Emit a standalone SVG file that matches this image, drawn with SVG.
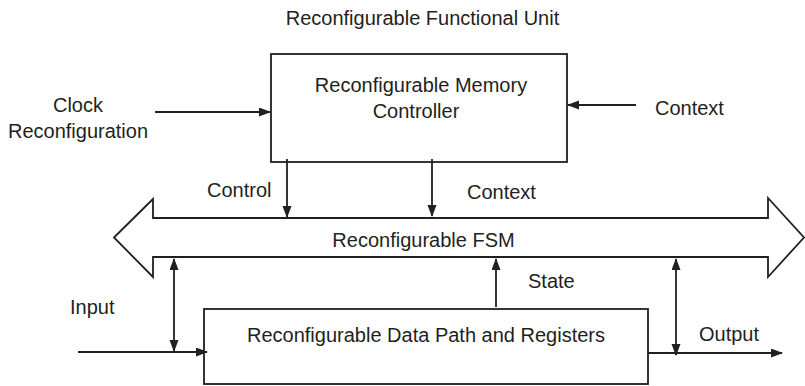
<svg xmlns="http://www.w3.org/2000/svg" width="805" height="386" viewBox="0 0 805 386">
<style>
text{font-family:"Liberation Sans",Arial,sans-serif;font-size:20px;fill:#231f20}
.m{text-anchor:middle}
.box{fill:#fff;stroke:#231f20;stroke-width:1.8}
.ln{fill:none;stroke:#231f20;stroke-width:1.8}
</style>
<defs>
<marker id="ah" markerUnits="userSpaceOnUse" markerWidth="12" markerHeight="10" refX="11" refY="4.5" orient="auto-start-reverse">
<path d="M0,0 L12,4.5 L0,9 z" fill="#231f20"/>
</marker>
</defs>
<rect width="805" height="386" fill="#fff"/>
<text class="m" x="422.5" y="25">Reconfigurable Functional Unit</text>
<g id="memctrl">
<rect class="box" x="271" y="54" width="296" height="108"/>
<text class="m" x="421" y="92">Reconfigurable Memory</text>
<text class="m" x="416" y="118">Controller</text>
</g>
<g id="fsm">
<polygon class="box" points="114,237.5 153,199 153,218 768,218 768,198 804,237.5 768,277 768,257 153,257 153,277"/>
<text class="m" x="423.5" y="247">Reconfigurable FSM</text>
</g>
<g id="datapath">
<rect class="box" x="204" y="309" width="444" height="75"/>
<text class="m" x="426" y="342">Reconfigurable Data Path and Registers</text>
</g>
<g id="labels">
<text class="m" x="78" y="112">Clock</text>
<text class="m" x="78" y="138">Reconfiguration</text>
<text x="655" y="115">Context</text>
<text x="207" y="197">Control</text>
<text x="467" y="199">Context</text>
<text x="528" y="288">State</text>
<text x="70" y="314">Input</text>
<text x="699" y="341">Output</text>
</g>
<g id="connectors">
<line class="ln" x1="155" y1="112" x2="270" y2="112" marker-end="url(#ah)"/>
<line class="ln" x1="636" y1="105" x2="568" y2="105" marker-end="url(#ah)"/>
<line class="ln" x1="287" y1="159" x2="287" y2="217" marker-end="url(#ah)"/>
<line class="ln" x1="432" y1="159" x2="432" y2="216" marker-end="url(#ah)"/>
<line class="ln" x1="496" y1="307" x2="496" y2="259" marker-end="url(#ah)"/>
<line class="ln" x1="174" y1="259" x2="174" y2="351" marker-start="url(#ah)" marker-end="url(#ah)"/>
<line class="ln" x1="676" y1="259" x2="676" y2="355" marker-start="url(#ah)" marker-end="url(#ah)"/>
<line class="ln" x1="78" y1="352" x2="207" y2="352" marker-end="url(#ah)"/>
<line class="ln" x1="648" y1="353" x2="782" y2="353" marker-end="url(#ah)"/>
</g>
</svg>
